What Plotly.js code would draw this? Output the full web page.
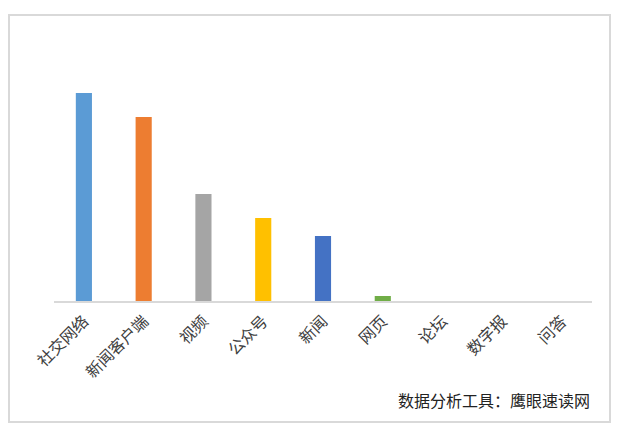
<!DOCTYPE html>
<html><head><meta charset="utf-8">
<script src="https://cdn.plot.ly/plotly-3.0.1.min.js"></script>
<style>
html,body{margin:0;padding:0;background:#fff;}
#wrap{position:relative;width:620px;height:431px;}
#chart{position:absolute;left:0;top:0;width:620px;height:431px;}
#frame{position:absolute;left:8px;top:14px;width:599px;height:405px;border:2px solid #d9d9d9;pointer-events:none;}
</style></head>
<body>
<div id="wrap"><div id="chart"></div><div id="frame"></div></div>
<script>
var categories = ["社交网络","新闻客户端","视频","公众号","新闻","网页","论坛","数字报","问答"];
var values = [208, 184, 107, 83, 65, 5, 0, 0, 0];
var colors = ["#5B9BD5","#ED7D31","#A5A5A5","#FFC000","#4472C4","#70AD47","#255E91","#9E480E","#636363"];
var sourceText = "数据分析工具：鹰眼速读网";

var font = "'Noto Sans CJK SC', 'Noto Sans', sans-serif";
Plotly.newPlot('chart', [{
  type: 'bar', x: categories, y: values,
  marker: {color: colors}, width: 0.27, hoverinfo: 'none'
}], {
  width: 620, height: 431,
  margin: {l: 54, r: 28, t: 51, b: 130},
  paper_bgcolor: '#fff', plot_bgcolor: '#fff',
  showlegend: false,
  xaxis: {
    type: 'category', tickangle: -45, showline: true, linecolor: '#d9d9d9', linewidth: 1.5,
    ticks: '', showgrid: false, zeroline: false, ticklabelstandoff: 3,
    tickfont: {family: font, size: 16, color: '#404040'}
  },
  yaxis: {range: [0, 250], visible: false, showgrid: false, zeroline: false},
  annotations: [{
    text: sourceText, xref: 'paper', yref: 'paper', x: 1, y: -0.396,
    xanchor: 'right', yanchor: 'middle', showarrow: false,
    font: {family: font, size: 16, color: '#222'}
  }]
}, {displayModeBar: false, staticPlot: true});
</script>
</body></html>
